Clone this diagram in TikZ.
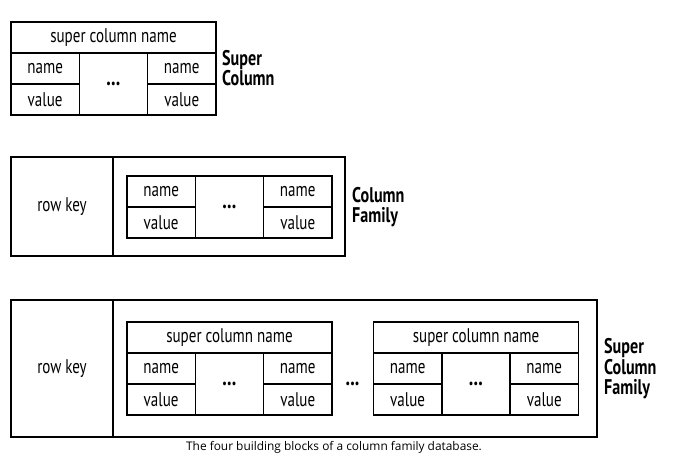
\documentclass[tikz,border=0pt]{standalone}
\usepackage{fontspec}
\setmainfont[FakeStretch=0.76]{PT Sans}
\newfontfamily\capfont{Open Sans}
\tikzset{
  ln/.style={draw, line width=1.6pt, inner sep=0pt, outer sep=0pt, anchor=north west},
  txt/.style={font=\fontsize{19.8}{21}\selectfont},
  cell/.style={ln, txt, minimum width=68.3pt, minimum height=31pt},
  wide/.style={ln, txt, minimum width=205pt, minimum height=31pt},
  dotcell/.style={ln, minimum width=68.3pt, minimum height=62pt, font=\bfseries\fontsize{24}{24}\selectfont},
  outer/.style={ln},
  keycell/.style={ln, txt},
  lbl/.style={anchor=west, align=left, inner sep=0pt, font=\bfseries\fontsize{21.2}{20.5}\selectfont},
}
\newcommand\colpair[3]{% prefix, x, y : name/value/.../name/value
  \node[cell] (#1n1) at (#2,#3) {name};
  \node[cell] (#1v1) at (#1n1.south west) {value};
  \node[dotcell] (#1d) at (#1n1.north east) {...};
  \node[cell] (#1n2) at (#1d.north east) {name};
  \node[cell] (#1v2) at (#1n2.south west) {value};
}
\newcommand\supercolblock[3]{% prefix, x, y
  \node[wide] (#1h) at (#2,#3) {super column name};
  \colpair{#1}{#2}{#3+31}
}
\begin{document}
\begin{tikzpicture}[x=1pt,y=-1pt]
\useasboundingbox (0,0) rectangle (674,455);
% Super Column
\supercolblock{a}{11}{22}
\node[lbl] (la) at (222,68) {Super\\Column};
% Column Family
\node[outer, minimum width=334pt, minimum height=99pt] (cf) at (11,157) {};
\node[keycell, minimum width=102pt, minimum height=99pt] (cfk) at (cf.north west) {row key};
\colpair{b}{127}{176}
\node[lbl] (lb) at (352,207) {Column\\Family};
% Super Column Family
\node[outer, minimum width=586pt, minimum height=137pt] (scf) at (11,300) {};
\node[keycell, minimum width=102pt, minimum height=137pt] (scfk) at (scf.north west) {row key};
\supercolblock{c}{127}{322}
\supercolblock{e}{373.5}{322}
\node[font=\bfseries\fontsize{24}{24}\selectfont, inner sep=0pt] (mid) at (352.5,384) {...};
\node[lbl] (lc) at (604,369) {Super\\Column\\Family};
% caption
\node[font=\capfont\fontsize{11.9}{13}\selectfont, inner sep=0pt] (cap) at (334,447) {The four building blocks of a column family database.};
\end{tikzpicture}
\end{document}
